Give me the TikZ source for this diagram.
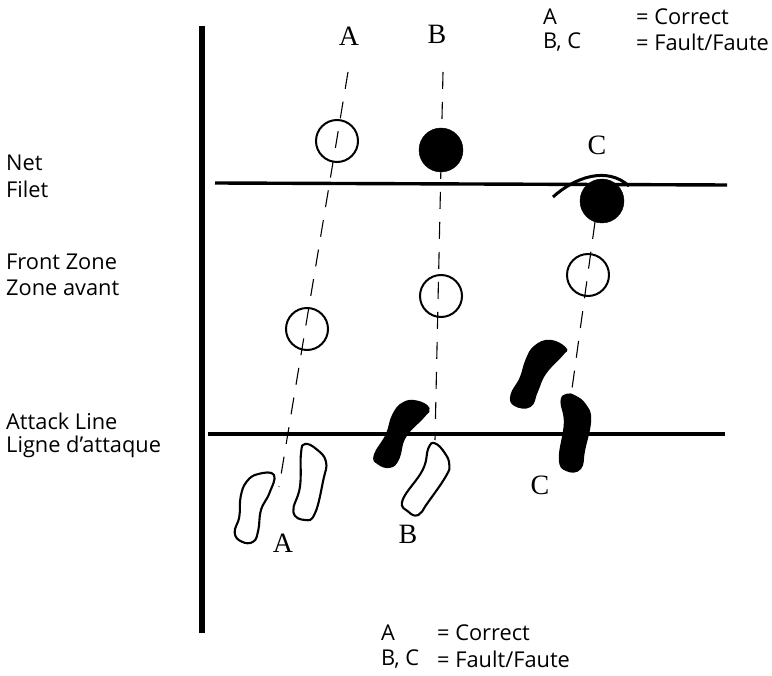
\documentclass[tikz,border=0pt]{standalone}
\usepackage{fontspec}
\setmainfont{Liberation Serif}
\newfontfamily\lblfont{Open Sans}
\begin{document}
\begin{tikzpicture}[x=1pt,y=-1pt,
  sidetext/.style={anchor=west,inner sep=0pt,font=\lblfont\fontsize{21.8}{22}\selectfont},
  letter/.style={inner sep=0pt,font=\fontsize{28}{28}\selectfont},
  ballopen/.style={circle,draw=black,line width=2pt,minimum size=42pt,inner sep=0pt},
  ballfull/.style={circle,fill=black,draw=black,minimum size=44pt,inner sep=0pt},
  courtline/.style={line width=3.4pt,black},
  traj/.style={dash pattern=on 17pt off 13pt,line width=1.1pt},
  footopen/.style={draw=black,line width=2.1pt,fill=white},
  footfull/.style={fill=black,draw=black,line width=2.4pt}]
\useasboundingbox (0,0) rectangle (772,676);
% court lines
\coordinate (wt) at (202,26); \coordinate (wb) at (202,633);
\coordinate (nl) at (215,183); \coordinate (nr) at (727,185);
\coordinate (al) at (208,434); \coordinate (ar) at (725,434);
\draw[line width=5.5pt] (wt) -- (wb);
\draw[courtline] (nl) -- (nr);
\draw[courtline] (al) -- (ar);
% trajectory ends
\coordinate (ta) at (348,72); \coordinate (fa) at (279,487);
\coordinate (tb) at (443,72); \coordinate (fb) at (435,440);
\coordinate (tc) at (595,222); \coordinate (fc) at (571,396);
\draw[traj] (ta) -- (fa);
\draw[traj] (tb) -- (fb);
\draw[traj] (tc) -- (fc);
% balls
\node[ballopen] (a1) at (337,141) {};
\node[ballopen] (a2) at (307,329) {};
\node[ballfull] (b1) at (441,150) {};
\node[ballopen] (b2) at (441,296) {};
\node[ballfull] (c1) at (602,201) {};
\node[ballopen] (c2) at (588,275) {};
% touch arc
\coordinate (arcl) at (553,197); \coordinate (arcr) at (629,186);
\draw[line width=3pt] (arcl) .. controls (575,177) and (607,166) .. (arcr);
% feet
\begin{scope}[shift={(200,340)},scale=0.3333]
\draw[footopen] plot[smooth cycle,tension=0.75] coordinates {(222,405)(175,402)(140,425)(122,470)(118,530)(104,578)(125,605)(160,605)(175,570)(183,510)(208,460)};
\draw[footopen] plot[smooth cycle,tension=0.75] coordinates {(315,312)(350,328)(378,365)(370,420)(345,520)(315,540)(280,515)(300,440)(303,340)};
\draw[footfull] plot[smooth cycle,tension=0.75] coordinates {(685,205)(650,185)(610,190)(580,225)(560,285)(525,345)(535,370)(570,380)(595,355)(615,290)(670,230)};
\draw[footopen] plot[smooth cycle,tension=0.75] coordinates {(705,310)(685,325)(668,390)(608,480)(625,515)(655,525)(682,490)(737,410)(748,375)(735,340)};
\end{scope}
\begin{scope}[shift={(480,130)},scale=0.3333]
\draw[footfull] plot[smooth cycle,tension=0.75] coordinates {(255,655)(210,633)(165,650)(140,690)(122,745)(95,795)(105,825)(150,828)(170,785)(195,730)(245,675)};
\draw[footfull] plot[smooth cycle,tension=0.75] coordinates {(260,795)(245,815)(255,880)(240,985)(260,1020)(300,1015)(312,960)(330,870)(315,825)(285,800)};
\end{scope}
% letters
\node[letter] (la) at (349,36) {A};
\node[letter] (lb) at (437,34) {B};
\node[letter] (lc) at (597,145) {C};
\node[letter] (la2) at (283,543) {A};
\node[letter] (lb2) at (408,534) {B};
\node[letter] (lc2) at (540,485) {C};
% side labels
\node[sidetext] (s1) at (6,163) {Net};
\node[sidetext] (s2) at (6,189) {Filet};
\node[sidetext] (s3) at (6,262) {Front Zone};
\node[sidetext] (s4) at (6,288) {Zone avant};
\node[sidetext] (s5) at (6,421) {Attack Line};
\node[sidetext] (s6) at (6,447) {Ligne d’attaque};
% legends
\node[sidetext] (k1) at (543,17) {A};
\node[sidetext] (k2) at (636,17) {= Correct};
\node[sidetext] (k3) at (543,42) {B, C};
\node[sidetext] (k4) at (636,42) {= Fault/Faute};
\node[sidetext] (m1) at (381,633) {A};
\node[sidetext] (m2) at (437,633) {= Correct};
\node[sidetext] (m3) at (381,659) {B, C};
\node[sidetext] (m4) at (437,659) {= Fault/Faute};
\end{tikzpicture}
\end{document}
